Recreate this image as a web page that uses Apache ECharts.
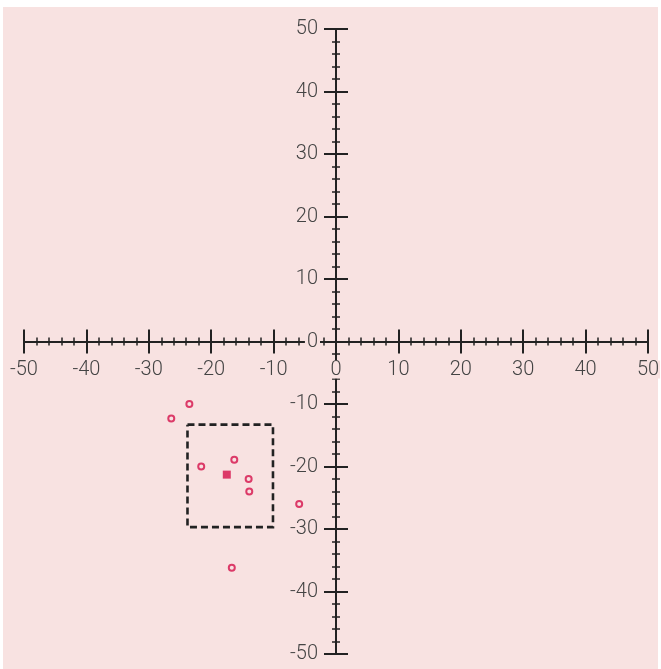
<!DOCTYPE html>
<html>
<head>
<meta charset="utf-8">
<script src="https://cdn.jsdelivr.net/npm/echarts@6/dist/echarts.min.js"></script>
<style>
html,body{margin:0;padding:0;background:#ffffff;}
#bg{position:absolute;left:3px;top:7px;width:655px;height:662px;background:#f8e2e1;}
#chart{position:absolute;left:0;top:0;width:661px;height:669px;}
</style>
</head>
<body>
<div id="bg"></div>
<div id="chart"></div>
<script>
// Data
var pointsX = [-23.5, -26.4, -21.6, -16.3, -14.0, -13.9, -5.9, -16.7];
var pointsY = [-10.0, -12.3, -20.0, -18.9, -22.0, -24.0, -26.0, -36.2];
var centerPoint = [-17.5, -21.3];
var boxX = [-23.8, -10.1];
var boxY = [-13.3, -29.7];
var axisMin = -50, axisMax = 50, axisStep = 10;

var scatterData = pointsX.map(function (x, i) { return [x, pointsY[i]]; });
var boxData = [
  [boxX[0], boxY[0]], [boxX[1], boxY[0]], [boxX[1], boxY[1]], [boxX[0], boxY[1]], [boxX[0], boxY[0]]
];

var gridLeft = 24, gridTop = 29, gridW = 624, gridH = 625;
var bgColor = '#f8e2e1';
var axisColor = '#222222';
var labelStyle = { color: '#444444', fontSize: 20, fontFamily: 'Roboto', fontWeight: 300,
  backgroundColor: bgColor, lineHeight: 18 };

// axes drawing lines and ticks (grid 0)
function lineAxis(pos, offset) {
  return {
    gridIndex: 0, type: 'value', min: axisMin, max: axisMax, interval: axisStep,
    position: pos, offset: offset, z: 2,
    axisLine: { show: true, onZero: false, lineStyle: { color: axisColor, width: 2 } },
    axisTick: { show: true, length: 12, lineStyle: { color: axisColor, width: 2 } },
    minorTick: { show: true, splitNumber: 5, length: 4, lineStyle: { color: axisColor, width: 1.5 } },
    axisLabel: { show: false },
    splitLine: { show: false },
    minorSplitLine: { show: false }
  };
}
// axes drawing labels only (grid 1), on top
function labelAxis(pos, offset, margin, padding) {
  return {
    gridIndex: 1, type: 'value', min: axisMin, max: axisMax, interval: axisStep,
    position: pos, offset: offset, z: 10,
    axisLine: { show: false, onZero: false },
    axisTick: { show: false },
    minorTick: { show: false },
    axisLabel: Object.assign({ margin: margin, padding: padding, showMinLabel: true, showMaxLabel: true }, labelStyle),
    splitLine: { show: false },
    minorSplitLine: { show: false }
  };
}

var gridCfg = { left: gridLeft, top: gridTop, width: gridW, height: gridH, containLabel: false, outerBoundsMode: 'none' };

var chart = echarts.init(document.getElementById('chart'), null, { renderer: 'canvas' });
chart.setOption({
  backgroundColor: 'transparent',
  animation: false,
  grid: [Object.assign({}, gridCfg), Object.assign({}, gridCfg)],
  xAxis: [lineAxis('bottom', -gridH / 2), lineAxis('top', -gridH / 2), labelAxis('bottom', -gridH / 2, 19, [0, 1])],
  yAxis: [lineAxis('left', -gridW / 2), lineAxis('right', -gridW / 2), labelAxis('left', -gridW / 2, 16, [0, 2])],
  series: [
    {
      type: 'line', xAxisIndex: 0, yAxisIndex: 0, data: boxData, symbol: 'none', z: 3,
      lineStyle: { color: axisColor, width: 2.6, type: [7, 4], cap: 'butt', join: 'miter' }
    },
    {
      type: 'scatter', xAxisIndex: 0, yAxisIndex: 0, data: scatterData, symbol: 'circle', symbolSize: 6, z: 4,
      itemStyle: { color: bgColor, borderColor: '#d5104a', borderWidth: 2 }
    },
    {
      type: 'scatter', xAxisIndex: 0, yAxisIndex: 0, data: [centerPoint], symbol: 'rect', symbolSize: 8, z: 4,
      itemStyle: { color: '#d5104a' }
    }
  ]
});
</script>
</body>
</html>
